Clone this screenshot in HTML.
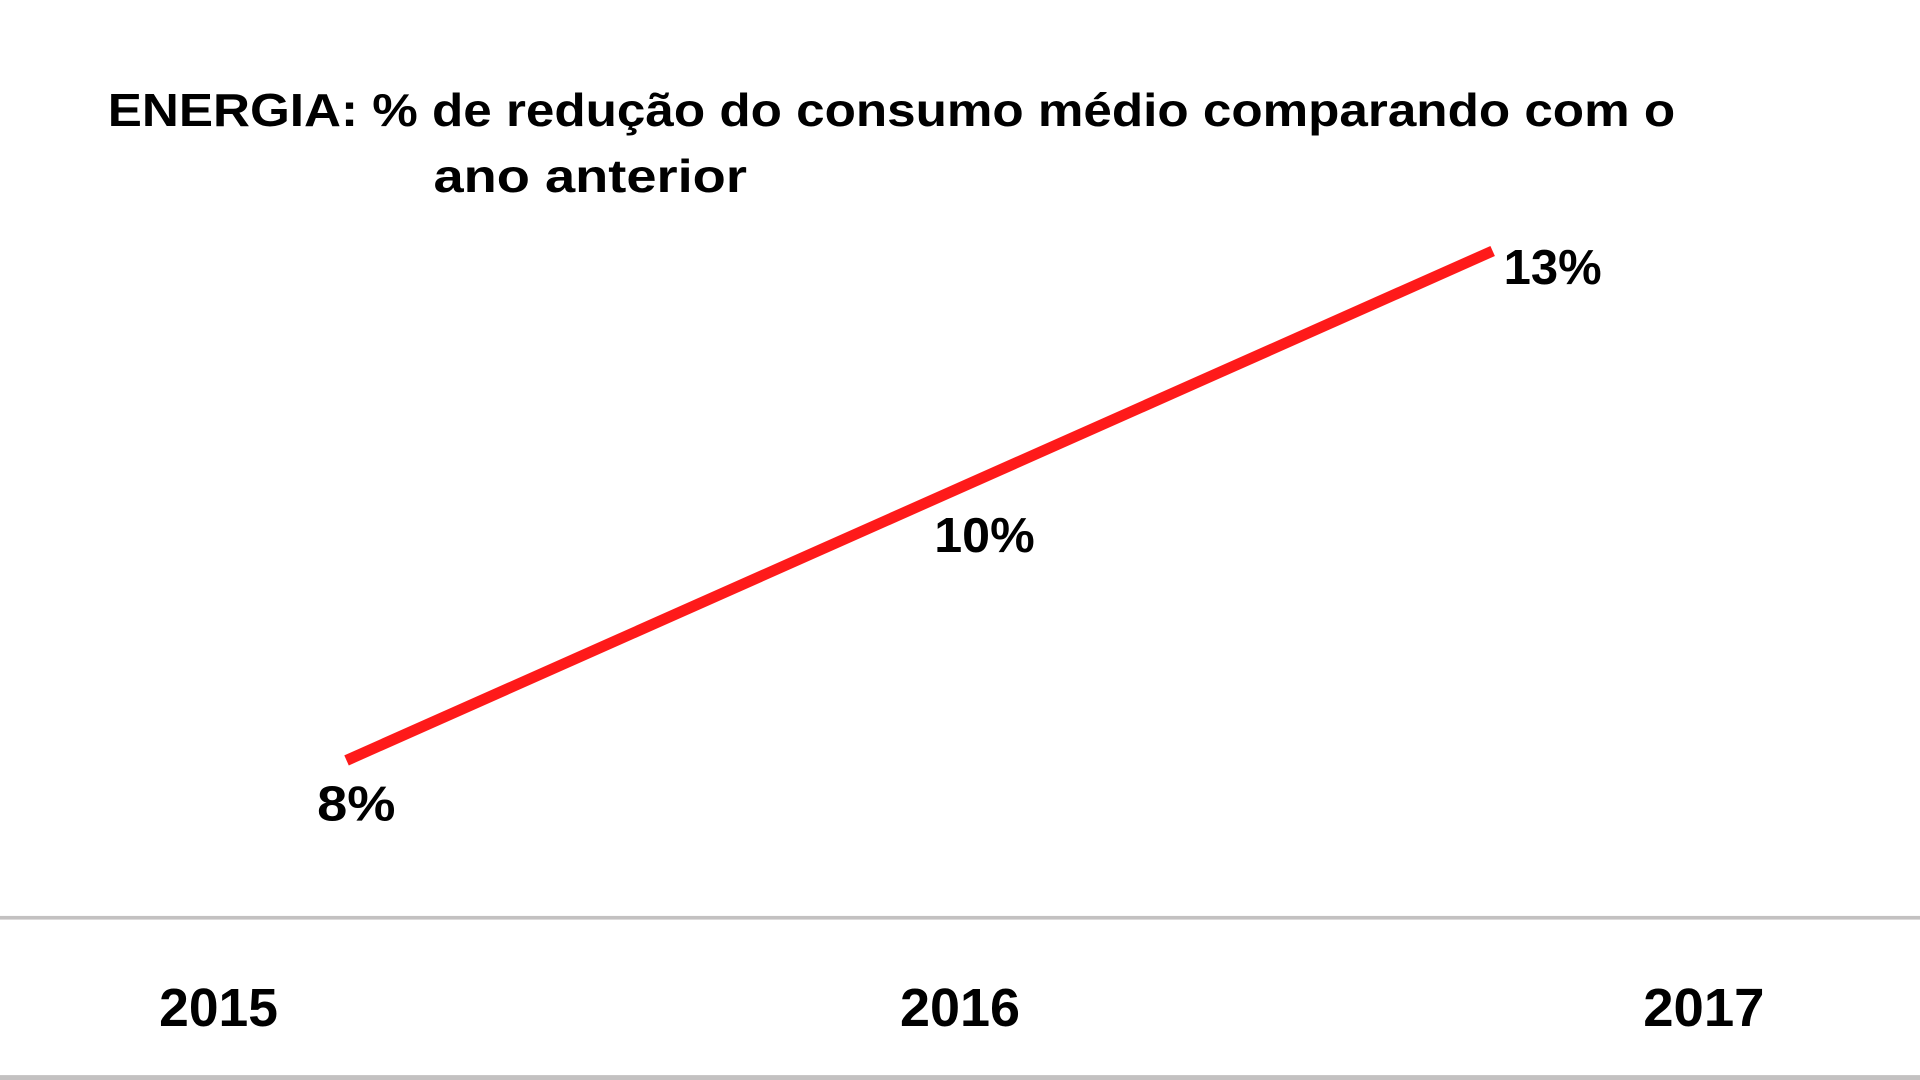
<!DOCTYPE html>
<html><head><meta charset="utf-8"><style>
html,body{margin:0;padding:0;background:#fff;}
svg{display:block;}
text{font-family:"Liberation Sans",sans-serif;font-weight:bold;fill:#000;}
</style></head><body>
<svg width="1920" height="1080" viewBox="0 0 1568 882" preserveAspectRatio="none">
<rect width="1568" height="882" fill="#fff"/>
<text x="88" y="103" font-size="38" textLength="1280" lengthAdjust="spacingAndGlyphs">ENERGIA: % de redução do consumo médio comparando com o</text>
<text x="354" y="157" font-size="38" textLength="256" lengthAdjust="spacingAndGlyphs">ano anterior</text>
<line x1="283" y1="621" x2="1219" y2="205" stroke="#fe1a1a" stroke-width="9"/>
<text x="1228" y="232" font-size="40" textLength="80" lengthAdjust="spacingAndGlyphs">13%</text>
<text x="763" y="451" font-size="40" textLength="82" lengthAdjust="spacingAndGlyphs">10%</text>
<text x="259" y="670" font-size="40" textLength="64" lengthAdjust="spacingAndGlyphs">8%</text>
<rect x="0" y="748" width="1568" height="3" fill="#c3c1c1"/>
<rect x="0" y="878" width="1568" height="4" fill="#c3c1c1"/>
<text x="130" y="838" font-size="44" textLength="97" lengthAdjust="spacingAndGlyphs">2015</text>
<text x="735" y="838" font-size="44" textLength="98" lengthAdjust="spacingAndGlyphs">2016</text>
<text x="1342" y="838" font-size="44" textLength="99" lengthAdjust="spacingAndGlyphs">2017</text>
</svg>
</body></html>
